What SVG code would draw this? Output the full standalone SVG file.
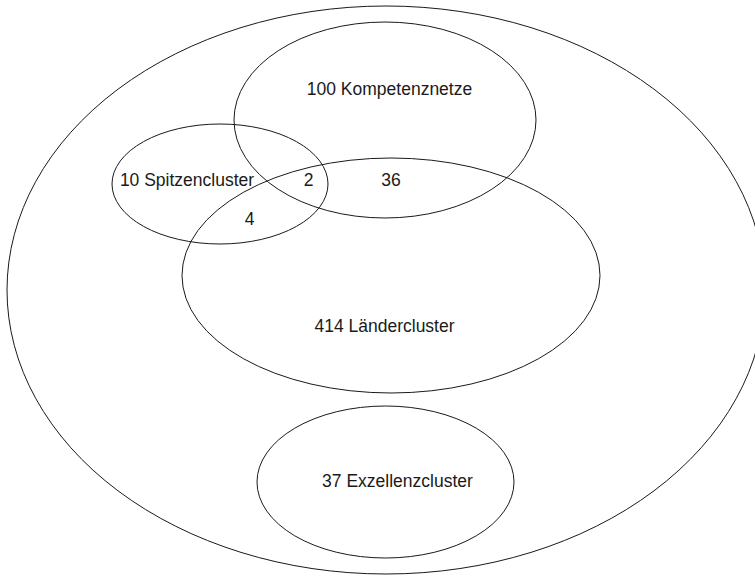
<svg xmlns="http://www.w3.org/2000/svg" width="755" height="577" viewBox="0 0 755 577">
  <style>
    .set { fill: none; stroke: #1a1a1a; stroke-width: 1; }
    .lbl { font-family: "Liberation Sans", Arial, sans-serif; font-size: 17.5px; fill: #1a1a1a; text-anchor: middle; }
  </style>
  <rect width="755" height="577" fill="#ffffff"/>
  <g id="alle-cluster">
    <ellipse class="set" cx="386" cy="290" rx="379" ry="284"/>
  </g>
  <g id="kompetenznetze">
    <ellipse class="set" cx="385" cy="120" rx="151" ry="98"/>
    <text class="lbl" x="389.5" y="95">100 Kompetenznetze</text>
  </g>
  <g id="spitzencluster">
    <ellipse class="set" cx="220" cy="184" rx="108" ry="60"/>
    <text class="lbl" x="187" y="186">10 Spitzencluster</text>
  </g>
  <g id="laendercluster">
    <ellipse class="set" cx="391" cy="275.5" rx="209" ry="117.5"/>
    <text class="lbl" x="384.5" y="332">414 Ländercluster</text>
  </g>
  <g id="exzellenzcluster">
    <ellipse class="set" cx="385.5" cy="482" rx="128.5" ry="76"/>
    <text class="lbl" x="397.5" y="487">37 Exzellenzcluster</text>
  </g>
  <g id="schnittmengen">
    <text class="lbl" x="308.5" y="186">2</text>
    <text class="lbl" x="391" y="186">36</text>
    <text class="lbl" x="249.5" y="225">4</text>
  </g>
</svg>
